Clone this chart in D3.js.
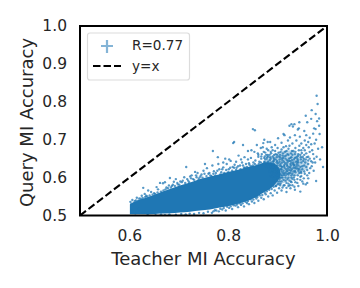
<!DOCTYPE html>
<html><head><meta charset="utf-8">
<script src="https://cdn.jsdelivr.net/npm/d3@7"></script>
<style>html,body{margin:0;padding:0;background:#fff}svg{display:block}text{font-family:"DejaVu Sans",sans-serif;fill:#262626}</style>
</head><body><svg id="c" width="360" height="288"></svg>
<script>
const xTicks=[0.6,0.8,1.0];
const yTicks=[0.5,0.6,0.7,0.8,0.9,1.0];
const coreX=[0.601,0.621,0.642,0.662,0.682,0.702,0.723,0.743,0.763,0.783,0.804,0.824,0.844,0.860,0.875,0.892,0.905];
const coreTop=[0.530,0.542,0.551,0.561,0.570,0.579,0.587,0.596,0.603,0.609,0.616,0.622,0.629,0.634,0.640,0.638,0.620];
const coreBottom=[0.503,0.503,0.503,0.505,0.506,0.508,0.510,0.513,0.516,0.521,0.526,0.532,0.541,0.551,0.563,0.578,0.600];
const hazeX=[0.870,0.895,0.920,0.945,0.962];
const hazeTop=[0.640,0.662,0.672,0.660,0.640];
const hazeBottom=[0.570,0.580,0.590,0.610,0.625];
const fringePoints=[
[0.602,0.536],[0.606,0.541],[0.611,0.538],[0.615,0.547],[0.620,0.545],[0.625,0.552],[0.628,0.573],[0.631,0.557],[0.634,0.552],[0.638,0.566],[0.644,0.562],[0.650,0.559],[0.655,0.575],[0.658,0.569],[0.662,0.586],[0.668,0.585],[0.672,0.588],[0.675,0.574],[0.680,0.579],[0.682,0.599],[0.686,0.578],[0.690,0.589],[0.694,0.596],[0.698,0.582],[0.703,0.590],[0.706,0.588],[0.711,0.601],[0.715,0.628],[0.719,0.592],[0.723,0.603],[0.726,0.606],[0.729,0.596],[0.733,0.615],[0.736,0.601],[0.738,0.612],[0.742,0.600],[0.746,0.608],[0.750,0.618],[0.753,0.636],[0.757,0.625],[0.760,0.610],[0.764,0.606],[0.768,0.632],[0.769,0.670],[0.771,0.617],[0.775,0.612],[0.779,0.654],[0.780,0.636],[0.782,0.622],[0.786,0.614],[0.790,0.627],[0.794,0.650],[0.797,0.636],[0.801,0.622],[0.805,0.644],[0.809,0.628],[0.810,0.691],[0.812,0.694],[0.813,0.634],[0.817,0.626],[0.821,0.658],[0.824,0.632],[0.828,0.640],[0.830,0.686],[0.832,0.626],[0.836,0.636],[0.840,0.648],[0.843,0.634],[0.847,0.672],[0.851,0.640],[0.855,0.645],[0.858,0.686],[0.860,0.664],[0.863,0.642],[0.867,0.650],[0.870,0.680],[0.871,0.691],[0.873,0.652],[0.877,0.660],[0.885,0.694],[0.840,0.670],[0.833,0.654],[0.826,0.648],[0.816,0.642],[0.802,0.648],[0.790,0.640],[0.846,0.652],[0.853,0.668],[0.861,0.655],[0.868,0.662],
[0.606,0.512],[0.612,0.506],[0.619,0.517],[0.628,0.508],[0.637,0.502],[0.645,0.511],[0.653,0.501],[0.664,0.503],[0.672,0.501],[0.681,0.503],[0.694,0.502],[0.705,0.504],[0.714,0.503],[0.722,0.505],[0.731,0.504],[0.741,0.507],[0.750,0.506],[0.759,0.510],[0.767,0.507],[0.773,0.514],[0.781,0.511],[0.788,0.516],[0.795,0.513],[0.802,0.520],[0.808,0.517],[0.815,0.526],[0.820,0.522],[0.826,0.528],[0.832,0.524],[0.838,0.533],[0.842,0.530],[0.848,0.537],[0.853,0.533],[0.857,0.545],[0.861,0.539],[0.867,0.547],[0.872,0.543],[0.876,0.556],[0.881,0.550],[0.886,0.559],[0.890,0.553],[0.894,0.566],[0.899,0.560],[0.903,0.572],[0.908,0.566],[0.912,0.579],[0.918,0.573],[0.922,0.584],[0.927,0.590],
[0.604,0.531],[0.609,0.534],[0.613,0.540],[0.618,0.539],[0.623,0.544],[0.627,0.546],[0.632,0.549],[0.636,0.550],[0.641,0.553],[0.647,0.555],[0.652,0.557],[0.657,0.561],[0.664,0.563],[0.669,0.566],[0.673,0.569],[0.678,0.572],[0.684,0.574],[0.688,0.581],[0.692,0.578],[0.697,0.586],[0.701,0.581],[0.708,0.592],[0.713,0.586],[0.717,0.596],[0.721,0.588],[0.725,0.598],[0.731,0.594],[0.735,0.606],[0.740,0.596],[0.744,0.604],[0.748,0.600],[0.752,0.610],[0.756,0.604],[0.762,0.612],[0.766,0.604],[0.770,0.610],[0.774,0.606],[0.778,0.618],[0.784,0.608],[0.788,0.622],[0.792,0.612],[0.796,0.620],[0.800,0.614],[0.804,0.626],[0.808,0.618],[0.812,0.626],[0.816,0.620],[0.820,0.630],[0.825,0.622],[0.830,0.632],[0.834,0.626],[0.838,0.628],[0.842,0.638],[0.846,0.630],[0.850,0.632],[0.854,0.636],[0.858,0.632],[0.862,0.636],[0.866,0.640],[0.870,0.636],[0.874,0.640],[0.878,0.638],[0.882,0.640],[0.886,0.636],[0.890,0.632],
[0.770,0.511],[0.776,0.513],[0.784,0.518],[0.791,0.520],[0.798,0.523],[0.805,0.524],[0.811,0.527],[0.818,0.529],[0.823,0.532],[0.829,0.532],[0.835,0.536],[0.840,0.538],[0.845,0.543],[0.851,0.542],[0.855,0.549],[0.859,0.549],[0.864,0.553],[0.869,0.554],[0.874,0.560],[0.878,0.564],[0.883,0.568],[0.888,0.570],[0.892,0.576],[0.896,0.578],[0.900,0.582],[0.905,0.580],[0.894,0.588],[0.899,0.594],[0.904,0.590],[0.892,0.598],[0.898,0.604],[0.886,0.604],[0.884,0.616],[0.890,0.616],[0.894,0.622],[0.899,0.612],[0.905,0.600],[0.903,0.612],[0.906,0.622],[0.900,0.626]
];
const rightCloudPoints=[
[0.979,0.816],[0.981,0.794],[0.969,0.778],[0.957,0.763],[0.977,0.768],[0.984,0.756],[0.968,0.755],[0.960,0.746],[0.980,0.749],[0.944,0.746],[0.924,0.737],[0.928,0.741],[0.934,0.741],[0.931,0.735],[0.984,0.737],[0.974,0.730],[0.941,0.727],[0.943,0.730],[0.954,0.723],[0.977,0.728],[0.850,0.728],[0.854,0.725],[0.912,0.715],[0.914,0.712],[0.925,0.706],[0.935,0.712],[0.945,0.708],[0.958,0.712],[0.965,0.705],[0.972,0.716],[0.978,0.700],[0.985,0.715],[0.962,0.694],[0.955,0.698],[0.948,0.690],[0.968,0.688],[0.975,0.690],[0.990,0.680],[0.982,0.676],[0.970,0.672],[0.963,0.680],[0.958,0.686],[0.952,0.678],[0.944,0.684],[0.938,0.698],[0.930,0.690],[0.921,0.698],[0.917,0.683],[0.908,0.692],[0.901,0.704],[0.895,0.686],[0.888,0.680],[0.880,0.694],[0.873,0.700],[0.866,0.678],[0.972,0.662],[0.979,0.655],[0.986,0.648],[0.974,0.650],[0.992,0.628],[0.978,0.591],[0.965,0.668],[0.958,0.664],[0.962,0.655],[0.955,0.672],[0.949,0.665],[0.943,0.672],[0.936,0.678],[0.929,0.670],[0.922,0.676],[0.915,0.668],[0.908,0.674],[0.902,0.666],[0.895,0.670],[0.887,0.664],[0.881,0.672],[0.875,0.666],[0.968,0.643],[0.962,0.636],[0.957,0.648],[0.951,0.655],[0.946,0.660],[0.940,0.650],[0.935,0.662],[0.928,0.654],[0.922,0.660],[0.916,0.650],[0.910,0.658],[0.904,0.648],[0.898,0.654],[0.892,0.644],[0.886,0.650],[0.880,0.642],[0.966,0.625],[0.960,0.620],[0.954,0.632],[0.948,0.640],[0.942,0.632],[0.937,0.642],[0.931,0.636],[0.925,0.644],[0.919,0.634],[0.913,0.642],[0.907,0.630],[0.901,0.638],[0.895,0.626],[0.889,0.634],[0.883,0.624],[0.955,0.610],[0.950,0.622],[0.944,0.612],[0.938,0.624],[0.932,0.616],[0.926,0.626],[0.920,0.618],[0.914,0.626],[0.908,0.616],[0.902,0.624],[0.896,0.614],[0.890,0.620],[0.962,0.598],[0.950,0.590],[0.946,0.602],[0.940,0.596],[0.934,0.606],[0.928,0.600],[0.922,0.608],[0.916,0.600],[0.910,0.606],[0.904,0.596],[0.957,0.582],[0.942,0.578],[0.936,0.588],[0.930,0.580],[0.924,0.592],[0.918,0.586],[0.912,0.594],[0.906,0.584],[0.900,0.590],[0.935,0.568],[0.946,0.563],[0.926,0.572],[0.918,0.562],[0.910,0.574],[0.897,0.578],[0.941,0.657],[0.933,0.648],[0.927,0.664],[0.919,0.646],[0.911,0.652],[0.905,0.660],[0.899,0.644],[0.893,0.660],[0.885,0.636],[0.879,0.654],[0.877,0.630],[0.891,0.628],[0.899,0.632],[0.906,0.636],[0.913,0.630],[0.920,0.640],[0.927,0.632],[0.935,0.626],[0.942,0.640],[0.950,0.630],[0.956,0.640],[0.947,0.648],[0.939,0.636],[0.932,0.640],[0.924,0.628],[0.917,0.622],[0.909,0.640],[0.902,0.610],[0.895,0.602],[0.888,0.612],[0.889,0.602],[0.896,0.592],[0.903,0.604],[0.911,0.612],[0.919,0.610],[0.926,0.612],[0.933,0.600],[0.941,0.606],[0.948,0.612],[0.953,0.598],
[0.872,0.668],[0.878,0.676],[0.884,0.660],[0.890,0.672],[0.896,0.662],[0.900,0.678],[0.906,0.668],[0.912,0.680],[0.918,0.670],[0.924,0.684],[0.930,0.660],[0.936,0.668],[0.942,0.662],[0.948,0.672],[0.954,0.660],[0.938,0.654],[0.932,0.670],[0.926,0.652],[0.920,0.662],[0.914,0.656],[0.908,0.650],[0.902,0.656],[0.896,0.648],[0.890,0.656],[0.884,0.646],[0.878,0.650],[0.874,0.656],[0.880,0.660],[0.886,0.668],[0.892,0.652],[0.898,0.640],[0.904,0.642],[0.910,0.646],[0.916,0.638],[0.922,0.644],[0.928,0.640],[0.934,0.634],[0.940,0.642],[0.946,0.628],[0.952,0.644],[0.958,0.628],[0.944,0.622],[0.938,0.630],[0.932,0.626],[0.926,0.636],[0.920,0.630],[0.914,0.634],[0.908,0.622],[0.904,0.632],[0.898,0.622],[0.892,0.636],[0.886,0.628],[0.906,0.610],[0.912,0.618],[0.918,0.616],[0.924,0.620],[0.930,0.610],[0.936,0.614],[0.942,0.618],[0.948,0.604],[0.954,0.616],[0.960,0.606],[0.964,0.612],[0.910,0.600],[0.916,0.606],[0.922,0.600],[0.928,0.606],[0.934,0.594],[0.940,0.586],[0.946,0.594],[0.952,0.584],[0.928,0.588],[0.922,0.578],[0.916,0.592],[0.908,0.590],[0.902,0.584],[0.934,0.576],[0.930,0.596],[0.914,0.580],[0.920,0.596],[0.925,0.580],[0.908,0.600],[0.900,0.600],[0.894,0.610],[0.901,0.616],[0.907,0.606],[0.913,0.608],[0.923,0.612],[0.929,0.622],[0.935,0.618],[0.941,0.624],[0.947,0.616],[0.933,0.632],[0.927,0.618],[0.921,0.624],[0.915,0.612],[0.909,0.628],[0.903,0.618],[0.897,0.630],[0.891,0.642],[0.885,0.654],[0.879,0.634],[0.873,0.642],[0.867,0.656],[0.861,0.660],[0.875,0.648],[0.881,0.656],[0.887,0.640],[0.893,0.648],[0.899,0.660],[0.905,0.654],[0.911,0.664],[0.917,0.658],[0.923,0.650],[0.929,0.646],[0.935,0.652],[0.941,0.646],[0.947,0.654],[0.953,0.650],[0.959,0.654],[0.965,0.650],[0.971,0.640],[0.962,0.645],[0.976,0.640],[0.969,0.630],[0.973,0.618],[0.960,0.586]
];
const legendLabels=["R=0.77","y=x"];
const axisLabels=["Teacher MI Accuracy","Query MI Accuracy"];

const blue="#1f77b4";
const svg=d3.select("#c");
const x=d3.scaleLinear().domain([0.5,1]).range([80,327]);
const y=d3.scaleLinear().domain([0.5,1]).range([215.5,26]);
svg.append("defs").append("clipPath").attr("id","p").append("rect")
  .attr("x",80).attr("y",26).attr("width",247).attr("height",189.5);
const plot=svg.append("g").attr("clip-path","url(#p)");
const band=d3.area().x(d=>x(d.x)).y0(d=>y(d.b)).y1(d=>y(d.t)).curve(d3.curveMonotoneX);
plot.append("path").datum(hazeX.map((d,i)=>({x:d,t:hazeTop[i],b:hazeBottom[i]}))).attr("fill",blue).attr("fill-opacity",0.3).attr("d",band);
plot.append("path").datum(coreX.map((d,i)=>({x:d,t:coreTop[i],b:coreBottom[i]}))).attr("fill",blue).attr("d",band);
plot.selectAll("circle").data(fringePoints.concat(rightCloudPoints)).join("circle")
  .attr("cx",d=>x(d[0])).attr("cy",d=>y(d[1])).attr("r",1.2).attr("fill",blue).attr("fill-opacity",0.75);
plot.append("line").attr("x1",x(0.5)).attr("y1",y(0.5)).attr("x2",x(1)).attr("y2",y(1))
  .attr("stroke","#000").attr("stroke-width",2.1).attr("stroke-dasharray","7.5,3.2");
svg.append("rect").attr("x",80).attr("y",26).attr("width",247).attr("height",189.5)
  .attr("fill","none").attr("stroke","#000").attr("stroke-width",2);
const xa=svg.append("g").attr("transform","translate(0,215.5)").call(d3.axisBottom(x).tickValues(xTicks).tickSize(0).tickPadding(14).tickFormat(d3.format(".1f")));
const ya=svg.append("g").attr("transform","translate(80,0)").call(d3.axisLeft(y).tickValues(yTicks).tickSize(0).tickPadding(13).tickFormat(d3.format(".1f")));
[xa,ya].forEach(a=>{a.select(".domain").remove();a.selectAll("text").attr("font-size",15.5).attr("font-family",'"DejaVu Sans",sans-serif').attr("fill","#262626");});
svg.append("text").attr("x",203.5).attr("y",265).attr("text-anchor","middle").attr("font-size",18).text(axisLabels[0]);
svg.append("text").attr("transform","translate(32.5,122.5) rotate(-90)").attr("text-anchor","middle").attr("font-size",18).text(axisLabels[1]);
const lg=svg.append("g");
lg.append("rect").attr("x",87.5).attr("y",33).attr("width",102).attr("height",47).attr("rx",2.5)
  .attr("fill","#fff").attr("stroke","#dcdcdc").attr("stroke-width",1.2);
lg.append("path").attr("d","M101 46H113M107 40V53").attr("stroke",blue).attr("stroke-opacity",0.55).attr("stroke-width",2.2);
lg.append("line").attr("x1",93).attr("x2",121).attr("y1",66).attr("y2",66).attr("stroke","#000").attr("stroke-width",2.1).attr("stroke-dasharray","7.5,3");
lg.selectAll("text").data(legendLabels).join("text").attr("x",132).attr("y",(d,i)=>50+i*21).attr("font-size",13.6).text(d=>d);
</script></body></html>
